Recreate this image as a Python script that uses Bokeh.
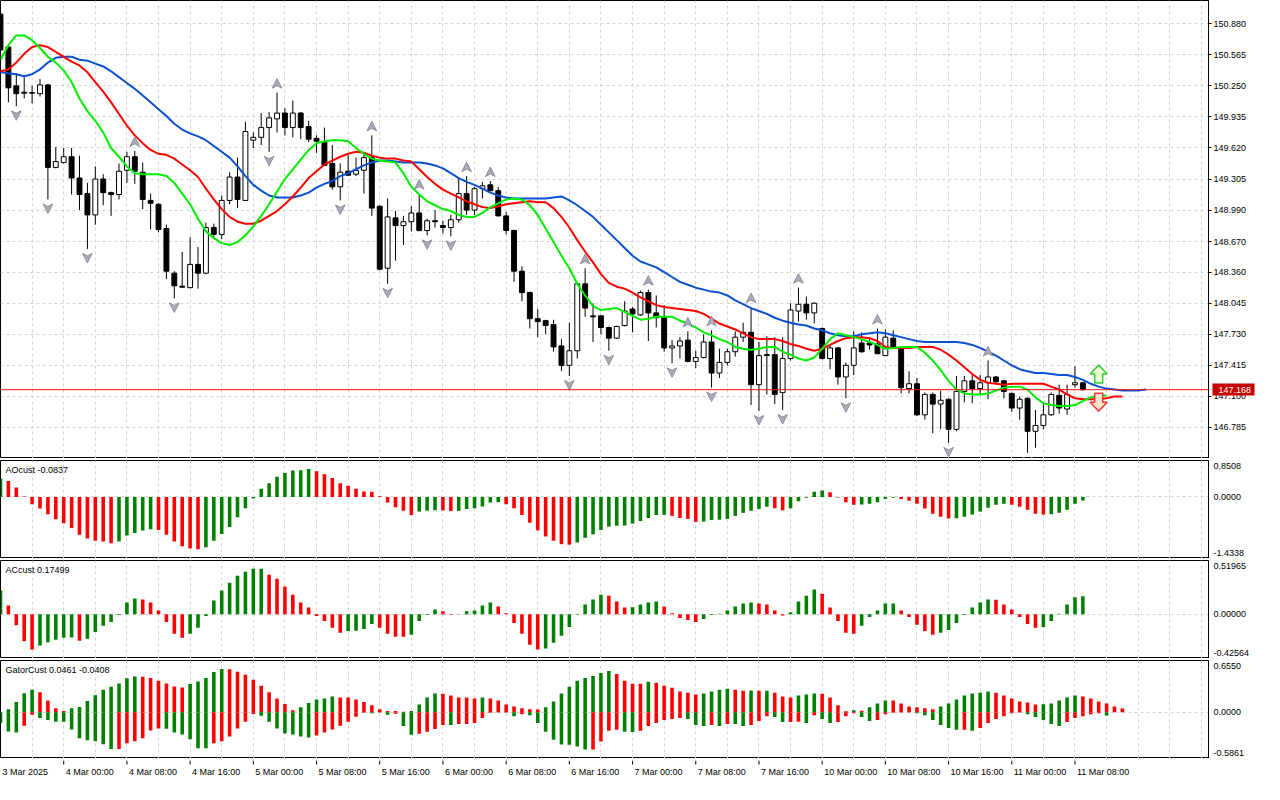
import numpy as np
from bokeh.plotting import figure
from bokeh.layouts import column
from bokeh.models import Range1d, FixedTicker, PrintfTickFormatter, Span, Label, ColumnDataSource, LinearAxis
from bokeh.core.properties import value
from bokeh.embed import file_html
from bokeh.resources import INLINE

# ---------------- data ----------------
time_labels = ["3 Mar 2025", "4 Mar 00:00", "4 Mar 08:00", "4 Mar 16:00", "5 Mar 00:00",
               "5 Mar 08:00", "5 Mar 16:00", "6 Mar 00:00", "6 Mar 08:00", "6 Mar 16:00",
               "7 Mar 00:00", "7 Mar 08:00", "7 Mar 16:00", "10 Mar 00:00", "10 Mar 08:00",
               "10 Mar 16:00", "11 Mar 00:00", "11 Mar 08:00"]
time_label_bars = [0, 8, 16, 24, 32, 40, 48, 56, 64, 72, 80, 88, 96, 104, 112, 120, 128, 136]

opens = [150.978, 150.644, 150.250, 150.186, 150.181, 150.171, 150.260, 149.423, 149.472, 149.531,
         149.315, 149.157, 148.941, 149.305, 149.167, 149.148, 149.394, 149.531, 149.374, 149.088,
         149.049, 148.803, 148.350, 148.218, 148.203, 148.439, 148.350, 148.813, 148.744, 149.088,
         149.325, 149.088, 149.699, 149.728, 149.827, 149.915, 149.974, 149.827, 149.974, 149.837,
         149.718, 149.679, 149.463, 149.226, 149.384, 149.354, 149.394, 149.522, 149.029, 148.400,
         148.911, 148.833, 148.872, 148.961, 148.783, 148.882, 148.833, 148.813, 148.892, 149.157,
         148.990, 149.207, 149.246, 149.187, 148.931, 148.783, 148.370, 148.153, 147.888, 147.868,
         147.829, 147.612, 147.415, 147.563, 148.242, 147.917, 147.917, 147.799, 147.691, 147.819,
         147.986, 147.927, 148.153, 147.947, 147.898, 147.592, 147.612, 147.671, 147.455, 147.494,
         147.652, 147.337, 147.445, 147.553, 147.701, 147.750, 147.219, 147.524, 147.524, 147.140,
         147.484, 147.966, 148.035, 147.947, 147.789, 147.484, 147.592, 147.297, 147.415, 147.642,
         147.642, 147.632, 147.514, 147.691, 147.583, 147.179, 147.228, 146.913, 147.120, 147.022,
         147.071, 146.766, 147.150, 147.258, 147.179, 147.238, 147.297, 147.258, 147.130, 146.982,
         147.081, 146.746, 146.805, 146.913, 147.110, 146.972, 147.219, 147.238]
highs = [150.998, 150.654, 150.378, 150.339, 150.250, 150.319, 150.270, 149.630, 149.620, 149.620,
         149.541, 149.266, 149.433, 149.354, 149.177, 149.463, 149.581, 149.591, 149.472, 149.157,
         149.059, 148.842, 148.370, 148.567, 148.715, 148.616, 148.862, 148.852, 149.138, 149.374,
         149.522, 149.886, 149.778, 149.974, 149.984, 150.181, 150.024, 150.102, 149.984, 149.896,
         149.748, 149.827, 149.650, 149.463, 149.551, 149.522, 149.571, 149.748, 149.039, 149.108,
         148.980, 148.931, 149.029, 149.157, 148.902, 148.990, 148.882, 148.941, 149.315, 149.335,
         149.226, 149.276, 149.285, 149.226, 148.970, 148.793, 148.419, 148.163, 147.986, 147.878,
         147.878, 147.681, 147.848, 148.252, 148.400, 148.045, 147.927, 147.809, 147.819, 148.065,
         148.006, 148.173, 148.183, 148.124, 148.026, 147.671, 147.701, 147.760, 147.563, 147.730,
         147.770, 147.583, 147.583, 147.760, 147.848, 148.006, 147.652, 147.711, 147.701, 147.701,
         148.045, 148.203, 148.114, 148.055, 147.799, 147.632, 147.602, 147.445, 147.760, 147.750,
         147.701, 147.789, 147.779, 147.770, 147.592, 147.356, 147.287, 147.140, 147.140, 147.159,
         147.081, 147.307, 147.307, 147.317, 147.317, 147.464, 147.307, 147.268, 147.140, 147.100,
         147.090, 146.962, 147.022, 147.140, 147.219, 147.219, 147.405, 147.248]
lows = [150.604, 150.083, 150.043, 150.122, 150.073, 150.142, 149.098, 149.413, 149.463, 149.148,
        148.990, 148.596, 148.842, 149.039, 148.931, 149.098, 149.266, 149.256, 149.000, 148.793,
        148.764, 148.291, 148.094, 148.203, 148.198, 148.193, 148.340, 148.695, 148.695, 149.049,
        149.010, 149.084, 149.620, 149.650, 149.581, 149.778, 149.748, 149.728, 149.709, 149.679,
        149.571, 149.438, 149.197, 149.088, 149.339, 149.335, 149.157, 148.931, 148.380, 148.242,
        148.478, 148.636, 148.774, 148.774, 148.734, 148.813, 148.754, 148.724, 148.862, 148.941,
        148.941, 149.108, 149.177, 148.926, 148.744, 148.262, 148.065, 147.789, 147.701, 147.730,
        147.553, 147.356, 147.307, 147.484, 147.907, 147.652, 147.730, 147.563, 147.681, 147.809,
        147.750, 147.917, 147.662, 147.799, 147.553, 147.435, 147.484, 147.445, 147.386, 147.484,
        147.189, 147.287, 147.415, 147.504, 147.652, 147.012, 146.952, 147.120, 147.022, 146.962,
        147.464, 147.858, 147.878, 147.839, 147.474, 147.376, 147.219, 147.081, 147.317, 147.543,
        147.573, 147.528, 147.509, 147.583, 147.130, 147.130, 146.903, 146.864, 146.726, 146.766,
        146.628, 146.746, 147.041, 147.031, 147.120, 147.071, 147.219, 147.081, 146.943, 146.864,
        146.529, 146.579, 146.766, 146.903, 146.923, 146.913, 147.189, 147.159]
closes = [150.614, 150.230, 150.171, 150.176, 150.176, 150.260, 149.423, 149.482, 149.531, 149.315,
          149.148, 148.941, 149.305, 149.167, 149.148, 149.384, 149.531, 149.384, 149.098, 149.059,
          148.793, 148.370, 148.222, 148.208, 148.439, 148.350, 148.813, 148.744, 149.088, 149.325,
          149.098, 149.787, 149.728, 149.827, 149.925, 149.974, 149.827, 149.974, 149.827, 149.709,
          149.689, 149.443, 149.226, 149.374, 149.344, 149.394, 149.522, 149.010, 148.390, 148.921,
          148.833, 148.872, 148.961, 148.783, 148.882, 148.872, 148.813, 148.892, 149.157, 148.990,
          149.207, 149.236, 149.187, 148.931, 148.783, 148.370, 148.153, 147.888, 147.858, 147.819,
          147.602, 147.415, 147.563, 148.242, 147.996, 147.907, 147.799, 147.691, 147.809, 147.966,
          147.937, 148.153, 147.947, 147.898, 147.592, 147.612, 147.662, 147.455, 147.494, 147.652,
          147.337, 147.445, 147.553, 147.701, 147.750, 147.219, 147.514, 147.514, 147.120, 147.484,
          147.976, 148.035, 147.947, 148.045, 147.484, 147.592, 147.297, 147.415, 147.592, 147.553,
          147.622, 147.533, 147.701, 147.592, 147.189, 147.228, 146.913, 147.120, 147.022, 147.061,
          146.766, 147.150, 147.258, 147.179, 147.238, 147.297, 147.248, 147.150, 146.982, 147.071,
          146.746, 146.805, 146.913, 147.120, 146.982, 147.120, 147.238, 147.168]

# Alligator lines (jaw shifted 8, teeth 5, lips 3 bars)
jaw = [150.388, 150.378, 150.368, 150.348, 150.368, 150.417, 150.486, 150.535, 150.545, 150.545,
       150.516, 150.506, 150.476, 150.447, 150.398, 150.339, 150.279, 150.220, 150.152, 150.083,
       150.014, 149.945, 149.866, 149.807, 149.768, 149.738, 149.699, 149.640, 149.581, 149.522,
       149.433, 149.335, 149.246, 149.187, 149.138, 149.118, 149.118, 149.118, 149.138, 149.167,
       149.217, 149.256, 149.285, 149.335, 149.364, 149.404, 149.443, 149.472, 149.492, 149.492,
       149.482, 149.472, 149.472, 149.472, 149.463, 149.443, 149.413, 149.364, 149.315, 149.276,
       149.246, 149.207, 149.167, 149.138, 149.118, 149.108, 149.108, 149.108, 149.108, 149.108,
       149.118, 149.128, 149.088, 149.039, 148.980, 148.921, 148.842, 148.764, 148.685, 148.606,
       148.527, 148.468, 148.439, 148.409, 148.360, 148.311, 148.262, 148.232, 148.203, 148.183,
       148.163, 148.153, 148.124, 148.075, 148.035, 147.996, 147.966, 147.937, 147.898, 147.868,
       147.848, 147.829, 147.819, 147.789, 147.770, 147.740, 147.720, 147.711, 147.711, 147.730,
       147.740, 147.750, 147.740, 147.720, 147.701, 147.681, 147.662, 147.652, 147.652, 147.652,
       147.652, 147.652, 147.642, 147.622, 147.592, 147.553, 147.514, 147.464, 147.415, 147.376,
       147.356, 147.337, 147.337, 147.327, 147.317, 147.317, 147.297, 147.268, 147.228, 147.199,
       147.179, 147.169, 147.159, 147.159, 147.159, 147.169]
teeth = [150.398, 150.417, 150.486, 150.575, 150.644, 150.663, 150.644, 150.594, 150.545, 150.496,
         150.457, 150.388, 150.289, 150.191, 150.083, 149.965, 149.846, 149.748, 149.669, 149.600,
         149.561, 149.551, 149.512, 149.453, 149.394, 149.325, 149.207, 149.098, 149.000, 148.921,
         148.872, 148.852, 148.852, 148.882, 148.931, 148.980, 149.049, 149.128, 149.217, 149.315,
         149.384, 149.453, 149.492, 149.531, 149.561, 149.581, 149.571, 149.541, 149.522, 149.512,
         149.512, 149.492, 149.482, 149.404, 149.325, 149.256, 149.197, 149.157, 149.118, 149.079,
         149.049, 149.020, 149.010, 149.029, 149.049, 149.059, 149.069, 149.079, 149.069, 149.069,
         149.010, 148.921, 148.813, 148.685, 148.567, 148.459, 148.340, 148.252, 148.213, 148.193,
         148.153, 148.104, 148.065, 148.026, 148.006, 147.996, 147.986, 147.976, 147.966, 147.937,
         147.888, 147.839, 147.809, 147.779, 147.740, 147.701, 147.681, 147.681, 147.681, 147.662,
         147.632, 147.612, 147.583, 147.563, 147.583, 147.622, 147.662, 147.691, 147.701, 147.701,
         147.691, 147.662, 147.602, 147.592, 147.592, 147.592, 147.602, 147.602, 147.602, 147.573,
         147.524, 147.464, 147.396, 147.327, 147.268, 147.238, 147.228, 147.219, 147.228, 147.228,
         147.228, 147.228, 147.228, 147.199, 147.169, 147.120, 147.081, 147.071, 147.071, 147.071,
         147.081, 147.100, 147.100]
lips = [150.516, 150.663, 150.762, 150.762, 150.713, 150.634, 150.545, 150.486, 150.407, 150.289,
        150.122, 149.994, 149.896, 149.778, 149.620, 149.531, 149.433, 149.364, 149.354, 149.354,
        149.354, 149.335, 149.266, 149.157, 149.049, 148.902, 148.774, 148.705, 148.655, 148.636,
        148.665, 148.734, 148.823, 148.931, 149.049, 149.177, 149.305, 149.404, 149.502, 149.600,
        149.669, 149.689, 149.699, 149.699, 149.689, 149.620, 149.561, 149.512, 149.492, 149.482,
        149.472, 149.364, 149.226, 149.148, 149.079, 149.039, 149.000, 148.980, 148.941, 148.921,
        148.921, 148.961, 149.020, 149.059, 149.098, 149.108, 149.098, 149.039, 148.941, 148.803,
        148.665, 148.527, 148.400, 148.242, 148.124, 148.016, 147.976, 147.986, 147.996, 147.957,
        147.917, 147.878, 147.888, 147.907, 147.907, 147.907, 147.868, 147.839, 147.799, 147.750,
        147.720, 147.681, 147.652, 147.602, 147.583, 147.573, 147.583, 147.602, 147.602, 147.553,
        147.524, 147.484, 147.464, 147.494, 147.583, 147.681, 147.740, 147.720, 147.701, 147.681,
        147.652, 147.622, 147.583, 147.592, 147.602, 147.602, 147.602, 147.543, 147.464, 147.366,
        147.258, 147.169, 147.130, 147.120, 147.120, 147.130, 147.159, 147.189, 147.199, 147.199,
        147.169, 147.090, 147.031, 147.012, 147.002, 147.002, 147.012, 147.051, 147.090, 147.110,
        147.110]

fractal_up_bars = [17, 35, 47, 53, 59, 62, 74, 82, 87, 90, 95, 101, 111, 125]
fractal_down_bars = [2, 6, 11, 22, 34, 43, 49, 54, 57, 72, 77, 85, 90, 96, 99, 107, 120, 130]

price_ticks = [150.880, 150.565, 150.250, 149.935, 149.620, 149.305, 148.990, 148.670,
               148.360, 148.045, 147.730, 147.415, 147.100, 146.785]
main_scale = (146.470, 151.116)
last_price = 147.168

signal_bars = [139, 139]
signal_prices = [147.327, 147.041]
signal_dirs = ["up", "down"]

ao = [0.43, 0.37, 0.22, 0.01, -0.17, -0.27, -0.40, -0.52, -0.61, -0.72,
      -0.88, -0.97, -1.02, -1.04, -1.08, -1.04, -0.90, -0.84, -0.78, -0.75,
      -0.77, -0.88, -1.04, -1.15, -1.20, -1.22, -1.17, -1.02, -0.86, -0.70,
      -0.47, -0.26, -0.03, 0.19, 0.32, 0.47, 0.56, 0.62, 0.625, 0.65,
      0.60, 0.53, 0.44, 0.32, 0.26, 0.19, 0.13, 0.12, 0.02, -0.13,
      -0.24, -0.32, -0.42, -0.34, -0.32, -0.31, -0.312, -0.325, -0.322, -0.28,
      -0.26, -0.22, -0.13, -0.125, -0.17, -0.26, -0.42, -0.60, -0.78, -0.92,
      -1.02, -1.10, -1.11, -1.06, -0.95, -0.87, -0.77, -0.69, -0.67, -0.665,
      -0.62, -0.56, -0.49, -0.42, -0.415, -0.44, -0.49, -0.51, -0.58, -0.575,
      -0.535, -0.53, -0.51, -0.44, -0.37, -0.32, -0.28, -0.23, -0.26, -0.31,
      -0.26, -0.10, -0.02, 0.12, 0.15, 0.11, -0.01, -0.12, -0.18, -0.175,
      -0.16, -0.12, -0.045, -0.02, -0.045, -0.09, -0.16, -0.27, -0.39, -0.46,
      -0.50, -0.495, -0.46, -0.41, -0.34, -0.25, -0.18, -0.16, -0.18, -0.225,
      -0.30, -0.39, -0.41, -0.405, -0.37, -0.30, -0.16, -0.0837]
ac = [0.23, 0.086, -0.105, -0.26, -0.34, -0.30, -0.27, -0.245, -0.226, -0.224,
      -0.255, -0.236, -0.17, -0.11, -0.073, -0.006, 0.115, 0.153, 0.143, 0.115,
      0.038, -0.073, -0.188, -0.226, -0.188, -0.13, -0.015, 0.134, 0.23, 0.306,
      0.373, 0.41, 0.44, 0.441, 0.382, 0.344, 0.27, 0.19, 0.115, 0.067,
      -0.015, -0.064, -0.13, -0.178, -0.16, -0.159, -0.14, -0.092, -0.13, -0.188,
      -0.216, -0.217, -0.197, -0.064, -0.006, 0.048, 0.029, -0.004, -0.002, 0.029,
      0.038, 0.086, 0.115, 0.076, 0.01, -0.083, -0.188, -0.293, -0.34, -0.33,
      -0.274, -0.207, -0.121, -0.003, 0.096, 0.143, 0.19, 0.18, 0.124, 0.067,
      0.068, 0.096, 0.115, 0.124, 0.076, 0.01, -0.035, -0.054, -0.073, -0.045,
      -0.006, 0.006, 0.038, 0.076, 0.105, 0.115, 0.105, 0.096, 0.038, -0.01,
      0.02, 0.124, 0.18, 0.24, 0.20, 0.067, -0.064, -0.178, -0.188, -0.11,
      -0.025, 0.038, 0.105, 0.106, 0.038, -0.025, -0.10, -0.16, -0.197, -0.178,
      -0.15, -0.083, -0.006, 0.067, 0.115, 0.143, 0.142, 0.096, 0.048, -0.025,
      -0.092, -0.13, -0.121, -0.064, 0.006, 0.096, 0.165, 0.17499]
gator_up = [0.0, 0.037, 0.128, 0.24, 0.285, 0.252, 0.149, 0.05, 0.017, 0.05,
            0.066, 0.141, 0.215, 0.285, 0.323, 0.364, 0.43, 0.451, 0.45, 0.434,
            0.397, 0.364, 0.327, 0.314, 0.356, 0.389, 0.434, 0.509, 0.546, 0.545,
            0.513, 0.476, 0.41, 0.335, 0.252, 0.174, 0.103, 0.025, 0.062, 0.116,
            0.161, 0.174, 0.199, 0.186, 0.185, 0.161, 0.128, 0.087, 0.037, 0.017,
            0.016, 0.005, 0.017, 0.099, 0.186, 0.236, 0.235, 0.211, 0.186, 0.185,
            0.174, 0.186, 0.174, 0.149, 0.099, 0.074, 0.05, 0.037, 0.036, 0.062,
            0.137, 0.236, 0.323, 0.397, 0.434, 0.459, 0.496, 0.521, 0.484, 0.397,
            0.36, 0.359, 0.385, 0.372, 0.335, 0.31, 0.261, 0.248, 0.223, 0.236,
            0.261, 0.285, 0.298, 0.285, 0.273, 0.274, 0.272, 0.273, 0.248, 0.199,
            0.186, 0.211, 0.223, 0.236, 0.235, 0.186, 0.087, 0.012, 0.025, 0.02,
            0.062, 0.112, 0.149, 0.148, 0.112, 0.074, 0.062, 0.05, 0.037, 0.074,
            0.112, 0.161, 0.211, 0.236, 0.248, 0.261, 0.248, 0.211, 0.174, 0.137,
            0.124, 0.099, 0.1, 0.112, 0.149, 0.186, 0.211, 0.199, 0.174, 0.137,
            0.112, 0.074, 0.0461]
gator_down = [-0.137, -0.244, -0.257, -0.17, -0.033, -0.074, -0.099, -0.12, -0.121, -0.219,
              -0.331, -0.356, -0.368, -0.405, -0.467, -0.466, -0.393, -0.368, -0.331, -0.232,
              -0.207, -0.208, -0.257, -0.281, -0.343, -0.455, -0.456, -0.393, -0.368, -0.306,
              -0.207, -0.12, -0.021, -0.046, -0.12, -0.207, -0.269, -0.281, -0.306, -0.319,
              -0.294, -0.257, -0.219, -0.17, -0.12, -0.058, -0.008, -0.012, -0.005, -0.033,
              -0.02, -0.174, -0.285, -0.273, -0.248, -0.211, -0.161, -0.162, -0.149, -0.148,
              -0.137, -0.074, -0.008, -0.004, -0.002, -0.05, -0.025, -0.037, -0.137, -0.248,
              -0.348, -0.41, -0.411, -0.434, -0.472, -0.471, -0.372, -0.236, -0.223, -0.248,
              -0.249, -0.236, -0.174, -0.137, -0.099, -0.087, -0.074, -0.087, -0.161, -0.174,
              -0.161, -0.174, -0.149, -0.15, -0.174, -0.161, -0.112, -0.05, -0.062, -0.124,
              -0.123, -0.122, -0.137, -0.037, -0.087, -0.137, -0.124, -0.05, -0.012, -0.062,
              -0.112, -0.099, -0.025, -0.008, -0.004, -0.002, -0.012, -0.037, -0.099, -0.161,
              -0.199, -0.223, -0.222, -0.236, -0.199, -0.137, -0.087, -0.05, -0.012, -0.004,
              -0.025, -0.062, -0.099, -0.149, -0.174, -0.124, -0.074, -0.05, -0.025, -0.012,
              -0.0408]

ao_title = "AOcust -0.0837"
ac_title = "ACcust 0.17499"
gator_title = "GatorCust 0.0461 -0.0408"
ao_scale = (-1.4338, 0.8508)
ac_scale = (-0.42564, 0.51965)
gator_scale = (-0.5861, 0.6550)
ao_scale_labels = ("-1.4338", "0.0000", "0.8508")
ac_scale_labels = ("-0.42564", "0.00000", "0.51965")
gator_scale_labels = ("-0.5861", "0.0000", "0.6550")

# ---------------- styling ----------------
FONT = "Liberation Sans"
FW = 1208
RB = 56
MAIN_H = 458
SUB_H = 98
TIME_H = 20
X_END = 152.9
H_GREEN = "#008000"
H_RED = "#ff0000"
JAW_C = "#0a50d2"
TEETH_C = "#ff0000"
LIPS_C = "#00ee00"
GRID_C = "#d4d4d4"

xr = Range1d(0, X_END)


def base_fig(h, lo, hi):
    p = figure(frame_width=FW, frame_height=h, x_range=xr, y_range=Range1d(lo, hi),
               x_axis_location=None, y_axis_location="right",
               output_backend="svg", toolbar_location=None,
               min_border_left=0, min_border_right=RB, min_border_top=0, min_border_bottom=0)
    p.outline_line_color = "black"
    p.outline_line_width = 1
    p.outline_line_alpha = 1.0
    p.background_fill_color = "white"
    p.border_fill_color = "white"
    p.xgrid.ticker = FixedTicker(ticks=list(range(0, 153, 4)))
    for g in (p.xgrid, p.ygrid):
        g.grid_line_color = GRID_C
        g.grid_line_dash = "3 3"
        g.grid_line_width = 1
    ax = p.yaxis[0]
    ax.axis_line_color = "black"
    ax.major_tick_line_color = "black"
    ax.major_tick_out = 3
    ax.major_tick_in = 0
    ax.minor_tick_line_color = None
    ax.major_label_standoff = 2
    ax.major_label_text_font = FONT
    ax.major_label_text_font_size = "9px"
    ax.major_label_text_color = "black"
    return p


def updown(vals, mag=False):
    cols = []
    for i, v in enumerate(vals):
        if i == 0:
            cols.append(H_GREEN)
            continue
        a = abs(v) if mag else v
        b = abs(vals[i - 1]) if mag else vals[i - 1]
        cols.append(H_GREEN if a > b else H_RED)
    return cols


# ---------------- main price panel ----------------
lo, hi = main_scale
pm = base_fig(MAIN_H, lo, hi)
pm.yaxis.ticker = FixedTicker(ticks=price_ticks)
pm.yaxis.formatter = PrintfTickFormatter(format="%.3f")
pm.ygrid.ticker = FixedTicker(ticks=price_ticks)

ppx = FW / X_END
ppy = MAIN_H / (hi - lo)

n = len(opens)
idx = list(range(n))
src = ColumnDataSource(dict(
    x=idx, high=highs, low=lows,
    top=[max(o, c) for o, c in zip(opens, closes)],
    bottom=[min(o, c) for o, c in zip(opens, closes)],
    fill=["white" if c > o else "black" for o, c in zip(opens, closes)],
))
pm.segment(x0="x", y0="high", x1="x", y1="low", source=src, line_color="black", line_width=1)
pm.vbar(x="x", width=0.62, top="top", bottom="bottom", fill_color="fill",
        line_color="black", line_width=1, source=src)

pm.add_layout(Span(location=last_price, dimension="width", line_color="#ee1111", line_width=1))

pm.line(list(range(len(jaw))), jaw, line_color=JAW_C, line_width=2)
pm.line(list(range(len(teeth))), teeth, line_color=TEETH_C, line_width=2)
pm.line(list(range(len(lips))), lips, line_color=LIPS_C, line_width=2)


def shape_patch(cx, cy, shape):
    return [cx + dx / ppx for dx, dy in shape], [cy - dy / ppy for dx, dy in shape]


# fractal arrowheads (notched), centred 9 px beyond the bar's extreme
FR_OFF = 9.0 / ppy
FR_UP = [(0, -5), (4.8, 4.5), (0, 2), (-4.8, 4.5)]
FR_DN = [(dx, -dy) for dx, dy in FR_UP]
fxs, fys = [], []
for i in fractal_up_bars:
    a, b = shape_patch(i, highs[i] + FR_OFF, FR_UP)
    fxs.append(a); fys.append(b)
for i in fractal_down_bars:
    a, b = shape_patch(i, lows[i] - FR_OFF, FR_DN)
    fxs.append(a); fys.append(b)
pm.patches(xs=fxs, ys=fys, fill_color="#a9abb8", line_color="#8c8e9c", line_width=1)

# buy / sell hollow arrows
UP_SHAPE = [(0, -9), (8.5, 0), (4, 0), (4, 9), (-4, 9), (-4, 0), (-8.5, 0)]
xs_l, ys_l, f_l, l_l = [], [], [], []
for b, pr, d in zip(signal_bars, signal_prices, signal_dirs):
    shape = UP_SHAPE if d == "up" else [(dx, -dy) for dx, dy in UP_SHAPE]
    a, c = shape_patch(b, pr, shape)
    xs_l.append(a); ys_l.append(c)
    f_l.append("#eaffd2" if d == "up" else "#ffe2cc")
    l_l.append("#33cc33" if d == "up" else "#ff3333")
pm.patches(xs=xs_l, ys=ys_l, fill_color=f_l, line_color=l_l, line_width=1.5)

# last-price tag on the price scale: a second right axis with one thick red tick
tag = LinearAxis(ticker=FixedTicker(ticks=[last_price]),
                 formatter=PrintfTickFormatter(format="%.3f"))
tag.axis_line_color = None
tag.minor_tick_line_color = None
tag.major_tick_line_color = "#c80000"
tag.major_tick_line_width = 12
tag.major_tick_in = 37
tag.major_tick_out = 5
tag.major_label_standoff = -36
tag.major_label_text_font = FONT
tag.major_label_text_font_size = "9px"
tag.major_label_text_color = "white"
pm.add_layout(tag, "right")


# ---------------- indicator panels ----------------
def sub_panel(scale, scale_labels, title):
    lo_, hi_ = scale
    p = base_fig(SUB_H, lo_, hi_)
    rng = hi_ - lo_
    t_lo = round(lo_ + 5.5 / SUB_H * rng, 6)
    t_hi = round(hi_ - 5.5 / SUB_H * rng, 6)
    p.yaxis.ticker = FixedTicker(ticks=[t_lo, 0.0, t_hi])
    p.yaxis.major_label_overrides = {t_lo: scale_labels[0], 0.0: scale_labels[1], t_hi: scale_labels[2]}
    p.yaxis.major_tick_line_color = None
    p.ygrid.ticker = FixedTicker(ticks=[0])
    p.add_layout(Label(x=5, y=hi_ - 9.0 / SUB_H * rng, x_units="screen", y_units="data",
                       text=title, text_font=FONT, text_font_size="9px", text_color="black",
                       text_baseline="middle", text_align="left"))
    return p


pao = sub_panel(ao_scale, ao_scale_labels, ao_title)
pao.vbar(x=list(range(len(ao))), width=0.45, top=ao, bottom=0, fill_color=updown(ao), line_color=None)

pac = sub_panel(ac_scale, ac_scale_labels, ac_title)
pac.vbar(x=list(range(len(ac))), width=0.45, top=ac, bottom=0, fill_color=updown(ac), line_color=None)

pg = sub_panel(gator_scale, gator_scale_labels, gator_title)
pg.vbar(x=list(range(len(gator_up))), width=0.45, top=gator_up, bottom=0,
        fill_color=updown(gator_up, mag=True), line_color=None)
pg.vbar(x=list(range(len(gator_down))), width=0.45, top=0, bottom=gator_down,
        fill_color=updown(gator_down, mag=True), line_color=None)

# ---------------- time labels ----------------
pt = figure(frame_width=FW, frame_height=TIME_H, x_range=xr, y_range=Range1d(0, 1),
            x_axis_location=None, y_axis_location=None, output_backend="svg",
            toolbar_location=None, min_border_left=0, min_border_right=RB,
            min_border_top=0, min_border_bottom=0)
pt.outline_line_color = None
pt.xgrid.visible = False
pt.ygrid.visible = False
tb = time_label_bars[1:]
pt.segment(x0=tb, y0=[1.0] * len(tb), x1=tb, y1=[0.8] * len(tb), line_color="black", line_width=1)
pt.text(x=time_label_bars, y=[0.42] * len(time_label_bars), text=time_labels, x_offset=2,
        text_align="left", text_baseline="middle", text_font=value(FONT),
        text_font_size="9px", text_color="black")

layout = column(pm, pao, pac, pg, pt, spacing=2)

with open("out.html", "w") as f:
    f.write(file_html(layout, INLINE))
